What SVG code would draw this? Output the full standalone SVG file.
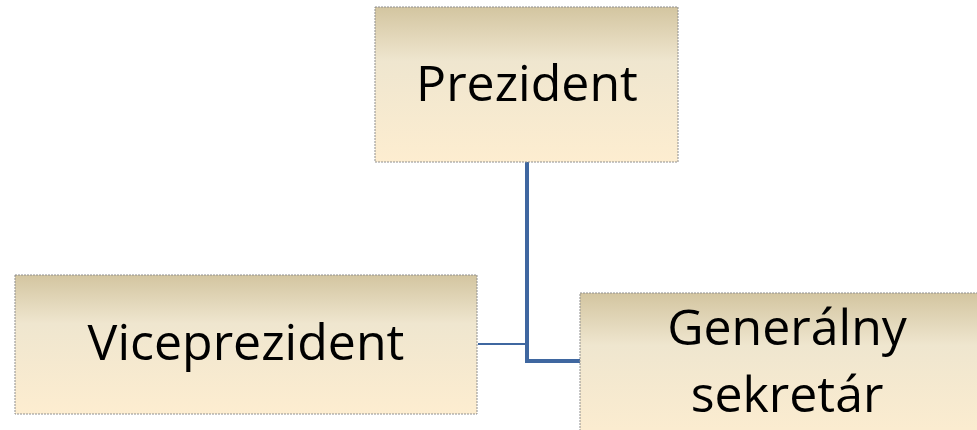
<svg xmlns="http://www.w3.org/2000/svg" width="977" height="430" viewBox="0 0 977 430">
<defs>
<linearGradient id="g" x1="0" y1="0" x2="0" y2="1">
<stop offset="0" stop-color="#d3c5a0"/>
<stop offset="0.35" stop-color="#efe6cf"/>
<stop offset="1" stop-color="#fdedd0"/>
</linearGradient>
<style>
.box{fill:url(#g);stroke:#8f8f8f;stroke-width:1;stroke-dasharray:2 1}
.t{font-family:"Open Sans","Liberation Sans",sans-serif;font-size:50px;fill:#000;text-anchor:middle}
.c{fill:none;stroke:#3f67a0}
</style>
</defs>
<rect width="977" height="430" fill="#fff"/>
<g id="connectors">
<path class="c" d="M527 162 V361 H580" stroke-width="4"/>
<path class="c" d="M478 344 H527" stroke-width="2"/>
</g>
<g id="prezident">
<rect class="box" x="375" y="7" width="303" height="155"/>
<text class="t" x="527" y="101">Prezident</text>
</g>
<g id="viceprezident">
<rect class="box" x="15" y="275" width="462" height="139"/>
<text class="t" x="246" y="360">Viceprezident</text>
</g>
<g id="generalny">
<rect class="box" x="580" y="293" width="414" height="150"/>
<text class="t" x="787" y="345">Generálny</text>
<text class="t" x="787" y="412">sekretár</text>
</g>
</svg>
